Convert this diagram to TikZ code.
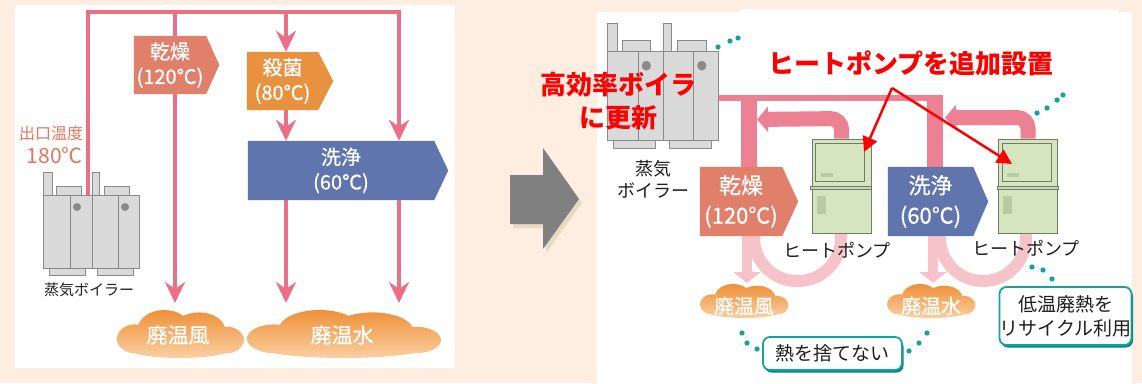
\documentclass[tikz,border=0pt]{standalone}
\usepackage{fontspec}
\newfontfamily\jpfont{Noto Sans CJK JP}
\newfontfamily\jpmed{Noto Sans CJK JP}[FakeBold=0.6]
\usetikzlibrary{arrows.meta,calc,shadows}

\pgfdeclarelayer{panel}
\pgfdeclarelayer{pipes}
\pgfdeclarelayer{shapes}
\pgfsetlayers{panel,pipes,shapes,main}

\definecolor{bgpeach}{HTML}{FDEEE1}
\definecolor{pipeL}{HTML}{EC6F87}
\definecolor{pipeR}{HTML}{EC8194}
\definecolor{pipeLight}{HTML}{F6C3CB}
\definecolor{dryC}{HTML}{E0806B}
\definecolor{sterC}{HTML}{E8923F}
\definecolor{washC}{HTML}{6075AD}
\definecolor{cloudTop}{HTML}{EF9038}
\definecolor{cloudBot}{HTML}{F9D0A2}
\definecolor{tealC}{HTML}{12A2A2}
\definecolor{hpFill}{HTML}{D5E5BF}
\definecolor{hpEdge}{HTML}{6F7C68}
\definecolor{hpMark}{HTML}{B9CBA5}
\definecolor{blrFill}{HTML}{DADADA}
\definecolor{blrEdge}{HTML}{8A8A8A}
\definecolor{labelRed}{HTML}{E8735F}
\definecolor{alertRed}{HTML}{FF0000}
\definecolor{inkC}{HTML}{1E1E1E}
\definecolor{arrowGray}{HTML}{808080}
\definecolor{arrowShade}{HTML}{E8D9C5}

\newcommand\fsz[2]{\fontsize{#1}{#2}\selectfont}

% pentagon tag behind a named text node; #3 = depth of the point
\newcommand\tagfill[3]{%
  \fill[#2] (#1.north west) -- (#1.north east) -- ($(#1.east)+(#3,0)$)
    -- (#1.south east) -- (#1.south west) -- cycle;}

% pair of boiler units, origin at top-left chimney
\newcommand\boilerpair[4]{%
  \begin{scope}[shift={(#1,#2)}, xscale=#3, yscale=#4]
    \filldraw[blr] (0,0) rectangle (9,23);
    \filldraw[blr] (13,14) rectangle (38,23);
    \filldraw[blr] (49,0) rectangle (56,23);
    \filldraw[blr] (61,14) rectangle (86,23);
    \filldraw[blr] (6,96) rectangle (42,103);
    \filldraw[blr] (54,96) rectangle (90,103);
    \filldraw[blr] (0,23) rectangle (49,96);
    \filldraw[blr] (49,23) rectangle (96,96);
    \draw[blr] (27,23) -- (27,96) (75,23) -- (75,96);
    \fill[blrEdge] (34,35) circle (4) (82,35) circle (4);
  \end{scope}}

% puffy cloud centred at (#1,#2) with half width #3 and half height #4
\newcommand\steamcloud[4]{%
  \shade[top color=cloudTop, bottom color=cloudBot, shift={(#1,#2)}, xscale=#3, yscale=#4]
    (0,0.45) ellipse [x radius=0.95, y radius=0.55]
    (-0.72,0.2) ellipse [x radius=0.28, y radius=0.6]
    (-0.25,-0.2) ellipse [x radius=0.42, y radius=0.8]
    (0.3,-0.15) ellipse [x radius=0.42, y radius=0.75]
    (0.75,0.25) ellipse [x radius=0.26, y radius=0.55];}

% heat pump cabinet details, relative to the node's north west corner
\newcommand\hpdetail[1]{%
  \begin{scope}[shift={(#1.north west)}]
    \draw[hpEdge, line width=1pt] (4,5) rectangle (53,43);
    \fill[hpMark] (9,34) rectangle (21,38);
    \filldraw[fill=hpFill!85!gray, draw=hpEdge, line width=0.8pt] (-1,48) rectangle (60,51);
    \fill[hpMark] (5,57) rectangle (14,75);
    \draw[hpEdge, line width=1.2pt] (1,95) -- (58,95);
  \end{scope}}

\begin{document}
\begin{tikzpicture}[x=1pt, y=-1pt, font=\jpfont,
  blr/.style={fill=blrFill, draw=blrEdge, line width=0.9pt},
  tagL/.style={text=white, align=center, inner sep=0pt, font=\jpmed\fsz{20}{25}},
  tagR/.style={text=white, align=center, inner sep=0pt, font=\jpmed\fsz{22}{30}},
  cloudL/.style={text=white, inner sep=0pt, font=\jpmed\fsz{21}{25}},
  cloudR/.style={text=white, inner sep=0pt, font=\jpmed\fsz{20}{24}},
  ink/.style={text=inkC, inner sep=0pt, align=center},
  alert/.style={text=alertRed, inner sep=0pt, align=center, font=\jpfont\bfseries\fsz{26}{33}},
  callout/.style={draw=tealC, line width=1.8pt, rounded corners=7pt, fill=white,
    text=inkC, align=center, inner sep=0pt,
    drop shadow={shadow xshift=1.5pt, shadow yshift=-2.5pt, fill=tealC!80!black, opacity=1}},
  hpbox/.style={draw=hpEdge, fill=hpFill, line width=1pt, inner sep=0pt,
    minimum width=59pt, minimum height=94pt},
  feedL/.style={draw=pipeL, line width=4pt, -{Stealth[length=21pt,width=20pt,inset=7pt]}},
  mainR/.style={draw=pipeR, line width=6pt},
  teeR/.style={draw=pipeR, line width=16pt},
  returnR/.style={draw=pipeR, line width=15pt, rounded corners=11pt,
    -{Triangle[length=11pt,width=25pt]}},
  dropR/.style={draw=pipeLight, line width=10pt, -{Triangle[length=11pt,width=27pt]}},
  loopR/.style={draw=pipeLight, line width=12pt, rounded corners=43pt},
  pointer/.style={draw=alertRed, line width=2.5pt, -{Triangle[length=15pt,width=15pt]}},
  dot/.style={fill=tealC}]

\useasboundingbox (0,0) rectangle (1142,383);

% ---------- panels ----------
\begin{pgfonlayer}{panel}
  \fill[bgpeach] (0,0) rectangle (1142,383);
  \fill[white] (15,5) rectangle (455,368);
  \fill[white] (597,12) rectangle (1132,383);
  \fill[white] (740,9) rectangle (1118,20);
\end{pgfonlayer}

% ================= before =================
\node[tagL, minimum width=72pt, minimum height=58pt] (dryL) at (170,65) {乾燥\\(120℃)};
\node[tagL, minimum width=71pt, minimum height=58pt] (sterL) at (282.5,81) {殺菌\\(80℃)};
\node[tagL, minimum width=186pt, minimum height=59pt] (washL) at (341,170.5) {洗浄\\(60℃)};
\begin{pgfonlayer}{shapes}
  \tagfill{dryL}{dryC}{13}
  \tagfill{sterL}{sterC}{15}
  \tagfill{washL}{washC}{14}
  \boilerpair{43}{172}{1}{1}
  \steamcloud{180}{334}{63}{24}
  \steamcloud{343.5}{334}{96.5}{24}
\end{pgfonlayer}

\coordinate (outL) at (88,195);
\coordinate (hdrW) at (88,12);
\coordinate (hdrE) at (399,12);
\coordinate (dryTap) at (175,12);
\coordinate (sterTap) at (286,12);
\coordinate (airInL) at (175,303);
\coordinate (waterInA) at (286,303);
\coordinate (waterInB) at (399,303);

\begin{pgfonlayer}{pipes}
  \draw[feedL] (outL) -- (hdrW) -- (hdrE) -- (hdrE |- washL.north);
  \draw[feedL] (dryTap) -- (airInL);
  \draw[feedL] (sterTap) -- (sterTap |- sterL.north);
  \draw[feedL] (sterTap |- sterL.south) -- (sterTap |- washL.north);
  \draw[feedL] (sterTap |- washL.south) -- (waterInA);
  \draw[feedL] (hdrE |- washL.south) -- (waterInB);
\end{pgfonlayer}

\node[text=labelRed, inner sep=0pt, font=\jpfont\fsz{16}{20}] (outTempLab) at (51,133) {出口温度};
\node[text=labelRed, inner sep=0pt, font=\jpfont\fsz{21}{25}, anchor=east] (outTemp) at (83,156) {180℃};
\node[ink, font=\jpfont\fsz{15}{18}] (boilerLab) at (89,290) {蒸気ボイラー};
\node[cloudL] (windL) at (178,335) {廃温風};
\node[cloudL] (waterL) at (342,335) {廃温水};

% ---------- transition arrow ----------
\fill[arrowShade] (513,179) -- (546,179) -- (546,152) -- (582,203) -- (546,253) -- (546,228) -- (513,228) -- cycle;
\fill[arrowGray] (510,175) -- (543,175) -- (543,148) -- (579,199) -- (543,249) -- (543,224) -- (510,224) -- cycle;

% ================= after =================
\node[tagR, minimum width=82pt, minimum height=69pt] (dryR) at (741,201.5) {乾燥\\(120℃)};
\node[tagR, minimum width=85pt, minimum height=69pt] (washR) at (930.5,201.5) {洗浄\\(60℃)};
\node[hpbox] (hp1) at (841.5,186) {};
\node[hpbox] (hp2) at (1028,186) {};
\hpdetail{hp1}
\hpdetail{hp2}

\begin{pgfonlayer}{shapes}
  \tagfill{dryR}{dryC}{16}
  \tagfill{washR}{washC}{15}
  \boilerpair{607}{23}{1.156}{1.22}
  \steamcloud{744}{301}{44}{17}
  \steamcloud{931}{301}{44}{17}
\end{pgfonlayer}

\coordinate (mainStart) at (718,98);
\coordinate (mainEnd) at (943,98);
\coordinate (teeA) at (749,95);
\coordinate (teeB) at (935,95);
\coordinate (retEndA) at (757,119.5);
\coordinate (retEndB) at (945,117.5);
\coordinate (dropA) at (747,236);
\coordinate (dropAEnd) at (747,283);
\coordinate (dropB) at (933,236);
\coordinate (dropBEnd) at (933,283);
\coordinate (loopA) at (754,236);
\coordinate (loopB) at (940,236);

\begin{pgfonlayer}{pipes}
  \draw[mainR] (mainStart) -- (mainEnd);
  \draw[teeR] (teeA) -- (teeA |- dryR.north);
  \draw[teeR] (teeB) -- (teeB |- washR.north);
  \draw[returnR] (hp1.north) -- ++(0,-20) -- (retEndA);
  \draw[returnR] (hp2.north) -- ++(0,-21) -- (retEndB);
  \draw[dropR] (dropA) -- (dropAEnd);
  \draw[dropR] (dropB) -- (dropBEnd);
  \draw[loopR] (loopA) -- (754,281) -- (841,281) -- (hp1.south -| 841,0);
  \draw[loopR] (loopB) -- (940,281) -- (1026,281) -- (hp2.south -| 1026,0);
\end{pgfonlayer}

\node[ink, font=\jpfont\fsz{18}{22}] (boilerLabR) at (653,179) {蒸気\\ボイラー};
\node[ink, font=\jpfont\fsz{18}{22}] (hpLab1) at (837,250) {ヒートポンプ};
\node[ink, font=\jpfont\fsz{18}{22}] (hpLab2) at (1026,248) {ヒートポンプ};
\node[cloudR] (windR) at (744,306) {廃温風};
\node[cloudR] (waterR) at (931,306) {廃温水};

\node[alert] (newBoiler) at (618,101.5) {高効率ボイラ\\に更新};
\node[alert] (hpNote) at (911,63) {ヒートポンプを追加設置};
\coordinate (noteFoot) at (892,88);
\draw[pointer] (noteFoot) -- (864,152);
\draw[pointer] (noteFoot) -- (1012,164);

\node[callout, minimum width=139pt, minimum height=33pt, font=\jpfont\fsz{19}{23}] (noWaste) at (832.5,353.5) {熱を捨てない};
\node[callout, minimum width=127pt, minimum height=58pt, font=\jpfont\fsz{19}{24}] (recycle) at (1065.5,316) {低温廃熱を\\リサイクル利用};

% teal dotted leaders
\foreach \p in {(742,333),(747,343),(757,349),(909,351),(919,343),(927,333),
                (1032,267),(1043,270),(1052,279),
                (718,47),(730,41),(738,38),
                (1037,113),(1047,108),(1057,100),(1063,95)}
  \fill[dot] \p circle (2.6);

\end{tikzpicture}
\end{document}
